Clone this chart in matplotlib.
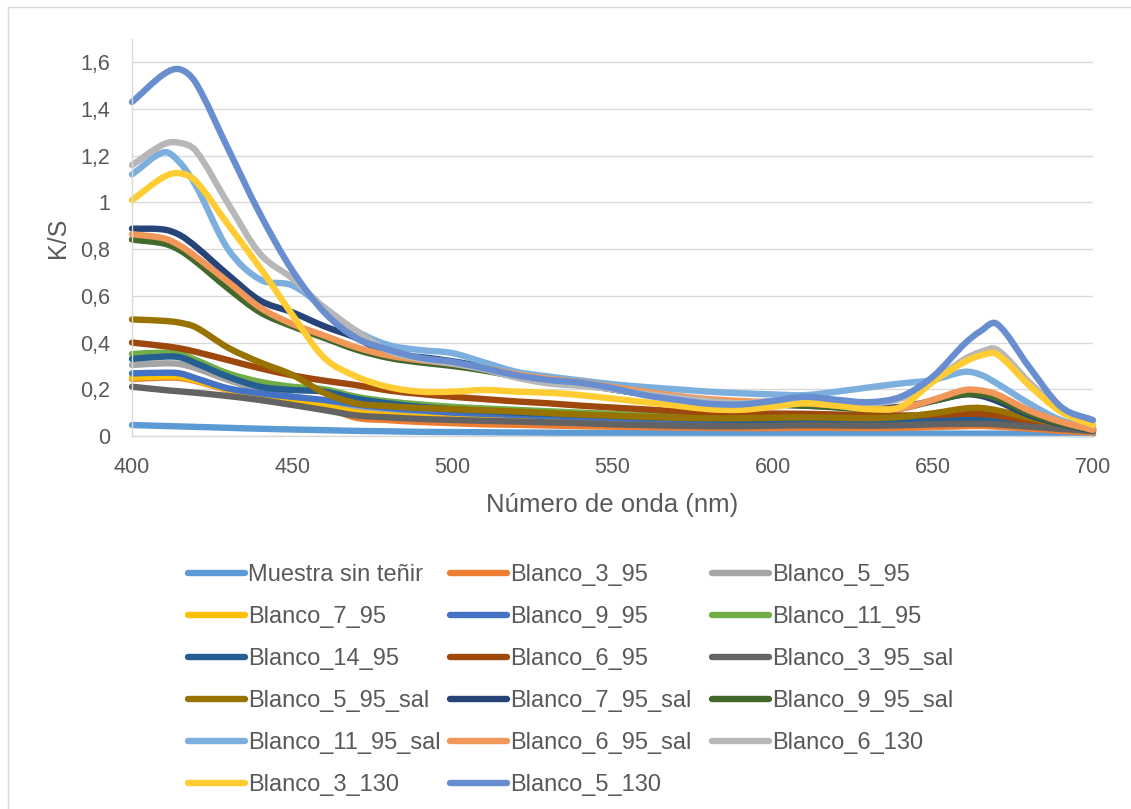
import matplotlib
matplotlib.use("Agg")
import matplotlib.pyplot as plt
from matplotlib.lines import Line2D
from matplotlib.patches import Rectangle, PathPatch
from matplotlib.path import Path

# ---------------- data ----------------
wavelength = [400, 410, 415, 420, 430, 440, 450, 460, 470, 480, 490, 500, 510, 520, 530,
              540, 550, 560, 570, 580, 590, 600, 610, 620, 630, 640, 650, 660, 665, 670,
              680, 690, 700]

muestra = [0.047, 0.043, 0.041, 0.039, 0.035, 0.031, 0.028, 0.025, 0.022, 0.020, 0.018, 0.017, 0.016, 0.015, 0.014,
           0.013, 0.013, 0.012, 0.012, 0.011, 0.011, 0.011, 0.011, 0.010, 0.010, 0.010, 0.010, 0.010, 0.010, 0.010,
           0.009, 0.009, 0.008]
b3_95 = [0.244, 0.250, 0.248, 0.235, 0.197, 0.168, 0.147, 0.125, 0.078, 0.068, 0.060, 0.055, 0.050, 0.048, 0.045,
         0.042, 0.040, 0.038, 0.036, 0.035, 0.034, 0.034, 0.035, 0.035, 0.034, 0.035, 0.038, 0.042, 0.043, 0.040,
         0.032, 0.022, 0.015]
b5_95 = [0.304, 0.311, 0.308, 0.290, 0.240, 0.197, 0.168, 0.147, 0.122, 0.105, 0.095, 0.090, 0.085, 0.080, 0.075,
         0.070, 0.067, 0.064, 0.060, 0.058, 0.056, 0.055, 0.056, 0.055, 0.054, 0.056, 0.060, 0.066, 0.068, 0.065,
         0.050, 0.037, 0.025]
b7_95 = [0.250, 0.255, 0.253, 0.238, 0.200, 0.170, 0.150, 0.130, 0.100, 0.088, 0.080, 0.075, 0.070, 0.066, 0.063,
         0.060, 0.058, 0.055, 0.053, 0.050, 0.049, 0.048, 0.049, 0.049, 0.048, 0.050, 0.053, 0.058, 0.059, 0.056,
         0.043, 0.031, 0.020]
b9_95 = [0.268, 0.271, 0.268, 0.247, 0.204, 0.183, 0.168, 0.154, 0.135, 0.120, 0.110, 0.100, 0.095, 0.090, 0.085,
         0.080, 0.075, 0.070, 0.067, 0.064, 0.062, 0.060, 0.061, 0.060, 0.059, 0.060, 0.062, 0.066, 0.067, 0.063,
         0.050, 0.037, 0.025]
b11_95 = [0.351, 0.357, 0.352, 0.325, 0.268, 0.232, 0.211, 0.200, 0.168, 0.148, 0.135, 0.125, 0.118, 0.112, 0.106,
          0.100, 0.095, 0.090, 0.086, 0.082, 0.079, 0.076, 0.075, 0.072, 0.070, 0.070, 0.072, 0.077, 0.078, 0.074,
          0.058, 0.042, 0.030]
b14_95 = [0.330, 0.340, 0.337, 0.311, 0.254, 0.211, 0.197, 0.190, 0.160, 0.140, 0.125, 0.115, 0.107, 0.100, 0.095,
          0.090, 0.085, 0.080, 0.076, 0.072, 0.069, 0.066, 0.065, 0.063, 0.062, 0.063, 0.066, 0.071, 0.072, 0.068,
          0.054, 0.040, 0.028]
b6_95 = [0.400, 0.385, 0.375, 0.360, 0.325, 0.290, 0.260, 0.237, 0.218, 0.195, 0.180, 0.168, 0.158, 0.148, 0.140,
         0.130, 0.122, 0.114, 0.106, 0.100, 0.097, 0.096, 0.095, 0.092, 0.090, 0.088, 0.090, 0.095, 0.094, 0.088,
         0.065, 0.045, 0.030]
b3_95_sal = [0.211, 0.197, 0.191, 0.185, 0.171, 0.154, 0.133, 0.111, 0.088, 0.080, 0.073, 0.069, 0.065, 0.062, 0.058,
             0.055, 0.050, 0.047, 0.044, 0.042, 0.042, 0.044, 0.046, 0.045, 0.044, 0.046, 0.050, 0.052, 0.052, 0.050,
             0.040, 0.030, 0.020]
b5_95_sal = [0.499, 0.493, 0.485, 0.465, 0.378, 0.315, 0.262, 0.185, 0.140, 0.128, 0.120, 0.115, 0.110, 0.105, 0.098,
             0.092, 0.087, 0.082, 0.078, 0.076, 0.076, 0.078, 0.080, 0.078, 0.076, 0.082, 0.097, 0.118, 0.120, 0.110,
             0.078, 0.052, 0.033]
b7_95_sal = [0.888, 0.884, 0.860, 0.810, 0.690, 0.580, 0.530, 0.470, 0.420, 0.352, 0.338, 0.320, 0.295, 0.262, 0.240,
             0.225, 0.200, 0.180, 0.165, 0.150, 0.140, 0.135, 0.130, 0.125, 0.120, 0.125, 0.150, 0.178, 0.172, 0.150,
             0.090, 0.051, 0.025]
b9_95_sal = [0.841, 0.824, 0.795, 0.746, 0.632, 0.530, 0.470, 0.420, 0.370, 0.335, 0.315, 0.300, 0.280, 0.255, 0.235,
             0.220, 0.200, 0.180, 0.165, 0.150, 0.140, 0.135, 0.130, 0.122, 0.115, 0.118, 0.150, 0.180, 0.178, 0.162,
             0.098, 0.054, 0.026]
b11_95_sal = [1.120, 1.215, 1.170, 1.070, 0.800, 0.670, 0.645, 0.550, 0.450, 0.390, 0.368, 0.355, 0.315, 0.275, 0.255,
              0.238, 0.222, 0.210, 0.200, 0.190, 0.183, 0.178, 0.175, 0.190, 0.208, 0.225, 0.240, 0.275, 0.262, 0.225,
              0.140, 0.068, 0.033]
b6_95_sal = [0.864, 0.846, 0.815, 0.767, 0.660, 0.550, 0.480, 0.430, 0.380, 0.345, 0.325, 0.310, 0.290, 0.265, 0.245,
             0.230, 0.210, 0.190, 0.172, 0.158, 0.150, 0.145, 0.140, 0.130, 0.120, 0.118, 0.155, 0.197, 0.195, 0.178,
             0.110, 0.061, 0.026]
b6_130 = [1.160, 1.250, 1.255, 1.220, 0.995, 0.780, 0.675, 0.550, 0.450, 0.365, 0.330, 0.310, 0.285, 0.250, 0.225,
          0.215, 0.200, 0.180, 0.165, 0.150, 0.140, 0.150, 0.160, 0.150, 0.140, 0.160, 0.235, 0.330, 0.360, 0.370,
          0.232, 0.111, 0.047]
b3_130 = [1.010, 1.110, 1.125, 1.090, 0.905, 0.720, 0.520, 0.335, 0.255, 0.210, 0.190, 0.190, 0.197, 0.190, 0.185,
          0.175, 0.160, 0.145, 0.130, 0.115, 0.112, 0.125, 0.140, 0.130, 0.115, 0.125, 0.232, 0.318, 0.345, 0.350,
          0.218, 0.104, 0.047]
b5_130 = [1.430, 1.550, 1.570, 1.510, 1.230, 0.950, 0.710, 0.530, 0.420, 0.370, 0.335, 0.318, 0.290, 0.260, 0.240,
          0.228, 0.205, 0.175, 0.155, 0.138, 0.135, 0.150, 0.168, 0.155, 0.145, 0.168, 0.254, 0.396, 0.450, 0.480,
          0.297, 0.125, 0.068]

series_names = ["Muestra sin teñir", "Blanco_3_95", "Blanco_5_95", "Blanco_7_95", "Blanco_9_95",
                "Blanco_11_95", "Blanco_14_95", "Blanco_6_95", "Blanco_3_95_sal", "Blanco_5_95_sal",
                "Blanco_7_95_sal", "Blanco_9_95_sal", "Blanco_11_95_sal", "Blanco_6_95_sal",
                "Blanco_6_130", "Blanco_3_130", "Blanco_5_130"]
series_values = [muestra, b3_95, b5_95, b7_95, b9_95, b11_95, b14_95, b6_95, b3_95_sal, b5_95_sal,
                 b7_95_sal, b9_95_sal, b11_95_sal, b6_95_sal, b6_130, b3_130, b5_130]
colors = ["#5B9BD5", "#ED7D31", "#A5A5A5", "#FFC000", "#4472C4", "#70AD47", "#255E91", "#9E480E",
          "#636363", "#997300", "#264478", "#43682B", "#7CAFDD", "#F1975A", "#B7B7B7", "#FFCD33", "#698ED0"]

x_ticks = [400, 450, 500, 550, 600, 650, 700]
y_ticks = [0, 0.2, 0.4, 0.6, 0.8, 1.0, 1.2, 1.4, 1.6]
y_tick_labels = ["0", "0,2", "0,4", "0,6", "0,8", "1", "1,2", "1,4", "1,6"]


def smooth_path(xs, ys):
    """Smoothed line as cubic Bezier segments through the data points
    (Hermite curve with finite-difference slopes, as a 'smoothed line' chart)."""
    n = len(xs)
    slopes = []
    for i in range(n):
        a, b = max(i - 1, 0), min(i + 1, n - 1)
        slopes.append((ys[b] - ys[a]) / (xs[b] - xs[a]))
    verts = [(xs[0], ys[0])]
    codes = [Path.MOVETO]
    for i in range(n - 1):
        dx = (xs[i + 1] - xs[i]) / 3.0
        c1 = (xs[i] + dx, ys[i] + slopes[i] * dx)
        c2 = (xs[i + 1] - dx, ys[i + 1] - slopes[i + 1] * dx)
        verts += [c1, c2, (xs[i + 1], ys[i + 1])]
        codes += [Path.CURVE4, Path.CURVE4, Path.CURVE4]
    return Path(verts, codes)


# ---------------- figure ----------------
plt.rcParams['font.family'] = ['Liberation Sans', 'DejaVu Sans']
TXT = "#595959"
W, H = 1131, 809
LW = 4.6
fig = plt.figure(figsize=(W / 100, H / 100), dpi=100)
fig.patch.set_facecolor("white")

# outer chart border
fig.add_artist(Rectangle((7.5 / W, -0.05), 1.2, 1 - 6.5 / H + 0.05, transform=fig.transFigure,
                         fill=False, edgecolor="#D9D9D9", linewidth=1.0))

ax = fig.add_axes([132 / W, 1 - 436 / H, (1093 - 132) / W, (436 - 39) / H])
ax.set_xlim(400, 700)
ax.set_ylim(0, 1.7)
ax.set_xticks(x_ticks)
ax.set_yticks(y_ticks)
ax.set_yticklabels(y_tick_labels)
ax.tick_params(axis='both', length=0, labelsize=15.5, colors=TXT)
ax.tick_params(axis='y', pad=16)
ax.tick_params(axis='x', pad=15)
ax.grid(axis='y', color="#D9D9D9", linewidth=1.0)
ax.set_axisbelow(True)
for s in ["top", "right"]:
    ax.spines[s].set_visible(False)
for s in ["left", "bottom"]:
    ax.spines[s].set_color("#D9D9D9")
    ax.spines[s].set_linewidth(1.0)

for name, vals, c in zip(series_names, series_values, colors):
    patch = PathPatch(smooth_path(wavelength, vals), facecolor='none', edgecolor=c,
                      linewidth=LW, capstyle='round', joinstyle='round',
                      transform=ax.transData, clip_on=False, label=name, zorder=2)
    ax.add_patch(patch)

ax.set_xlabel("Número de onda (nm)", fontsize=18.5, color=TXT, labelpad=11)
ax.set_ylabel("K/S", fontsize=18, color=TXT, labelpad=7)

# legend: three columns, filled row-wise
col_x = [188 / W, 450 / W, 712 / W]
top_y = 1 - 564 / H
for ci in range(3):
    handles, labels = [], []
    for k in range(ci, len(series_names), 3):
        handles.append(Line2D([0], [0], color=colors[k], linewidth=LW, solid_capstyle='round'))
        labels.append(series_names[k])
    fig.legend(handles, labels, loc='upper left', bbox_to_anchor=(col_x[ci], top_y),
               bbox_transform=fig.transFigure, frameon=False, fontsize=17,
               handlelength=2.4, handletextpad=0.15, labelspacing=0.85,
               borderpad=0, borderaxespad=0, labelcolor=TXT)

fig.savefig("out.png", dpi=100, facecolor="white")
